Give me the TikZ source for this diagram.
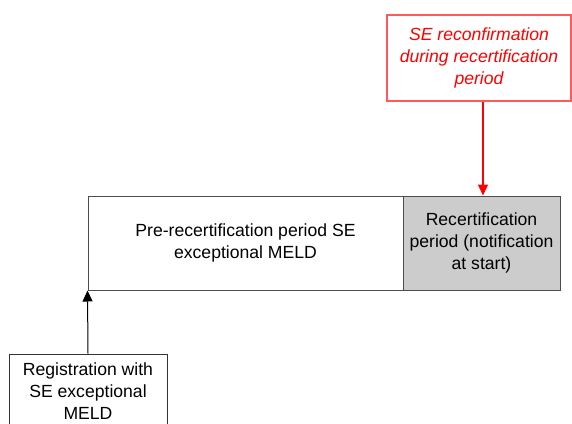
\documentclass[tikz,border=0pt]{standalone}
\usepackage{fontspec}
\setmainfont{Liberation Sans}
\usetikzlibrary{arrows.meta}
\definecolor{boxgray}{RGB}{204,204,204}
\definecolor{notered}{RGB}{255,90,90}
\begin{document}
\begin{tikzpicture}[x=1pt, y=-1pt,
  every node/.style={font=\fontsize{17.6}{22}\selectfont, align=center, inner sep=0pt},
  period/.style={draw=black!70, line width=1pt, minimum height=94pt},
  event/.style={draw=black!80, line width=1pt, fill=white},
  note/.style={draw=notered, line width=1.3pt, text=red},
  tip/.style={-{Triangle[length=11pt, width=10pt]}, line width=1pt}]
\useasboundingbox (0,0) rectangle (572,423);

\node (pre) at (245.5,243) [period, minimum width=315pt] {Pre-recertification period SE\\exceptional MELD};
\node (recert) at (481.5,243) [period, fill=boxgray, minimum width=157pt] {Recertification\\period (notification\\at start)};
\node (recon) at (479,58) [note, minimum width=184pt, minimum height=86pt, font=\fontsize{17.6}{22}\selectfont\itshape] {SE reconfirmation\\during recertification\\period};
\node (reg) at (88,391.5) [event, minimum width=158pt, minimum height=75pt] {Registration with\\SE exceptional\\MELD};

\draw[tip, red, line width=1.3pt] (recon.south -| 483,0) -- (483,0 |- recert.north);
\draw[tip] (reg.north) -- (pre.south west);
\end{tikzpicture}
\end{document}
